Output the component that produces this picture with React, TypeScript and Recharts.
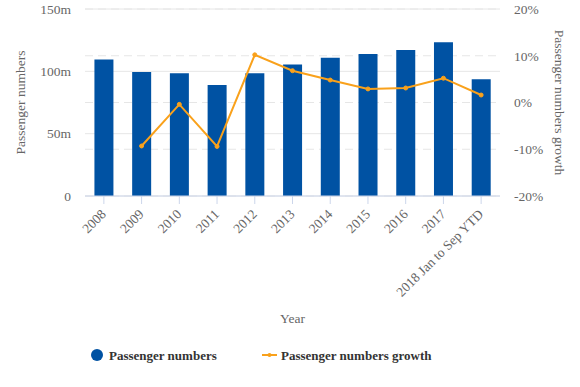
import React from 'react';
import { ComposedChart, Bar, Line, XAxis, YAxis, CartesianGrid, Legend, Label } from 'recharts';

const categories = ['2008', '2009', '2010', '2011', '2012', '2013', '2014', '2015', '2016', '2017', '2018 Jan to Sep YTD'];
const passengerNumbers = [109.5, 99.5, 98.5, 89, 98.5, 105.5, 110.8, 114, 117.2, 123.3, 93.7];
const passengerGrowth: (number | null)[] = [null, -9.3, -0.4, -9.4, 10.2, 6.8, 4.8, 2.9, 3.1, 5.2, 1.6];
const leftTicks = [0, 50, 100, 150];
const rightTicks = [-20, -10, 0, 10, 20];

const data = categories.map((c, i) => ({
  year: c,
  passengers: passengerNumbers[i],
  growth: passengerGrowth[i],
}));

const BLUE = '#0052a3';
const ORANGE = '#f9a11b';
const FONT = '"Liberation Serif", "Times New Roman", serif';

const XTick = (props: any) => {
  const { x, y, payload } = props;
  return (
    <text
      x={x + 3}
      y={y + 9}
      transform={`rotate(-45 ${x + 3} ${y + 9})`}
      textAnchor="end"
      fontSize={13.5}
      fontFamily={FONT}
      fill="#666"
    >
      {payload.value}
    </text>
  );
};

const LegendContent = () => (
  <div style={{ position: 'relative', width: 580, height: 42, fontFamily: FONT }}>
    <svg width={580} height={42} style={{ position: 'absolute', left: 0, top: 0 }}>
      <circle cx={97} cy={10} r={6} fill={BLUE} />
      <text x={109} y={14.5} fontSize={13} fontWeight="bold" fill="#333" fontFamily={FONT}>
        Passenger numbers
      </text>
      <line x1={262} y1={10} x2={277} y2={10} stroke={ORANGE} strokeWidth={2} />
      <circle cx={269.5} cy={10} r={2} fill={ORANGE} />
      <text x={281} y={14.5} fontSize={13} fontWeight="bold" fill="#333" fontFamily={FONT}>
        Passenger numbers growth
      </text>
    </svg>
  </div>
);

export default function App() {
  return (
    <div style={{ position: 'absolute', left: 0, top: 0 }}>
      <ComposedChart
        width={580}
        height={387}
        data={data}
        margin={{ top: 9, right: 0, bottom: 0, left: 0 }}
        barCategoryGap="25%"
      >
        <CartesianGrid yAxisId="left" vertical={false} stroke="#e6e6e6" />
        <CartesianGrid yAxisId="right" vertical={false} stroke="#e6e6e6" strokeDasharray="8 5" />
        <XAxis
          dataKey="year"
          interval={0}
          height={149}
          tick={<XTick />}
          tickSize={8}
          stroke="#ccd6eb"
          tickLine={{ stroke: '#ccd6eb' }}
          axisLine={{ stroke: '#ccd6eb' }}
        >
          <Label
            value="Year"
            position="insideBottom"
            offset={22}
            style={{ fontSize: 13.5, fontFamily: FONT, fill: '#666' }}
          />
        </XAxis>
        <YAxis
          yAxisId="left"
          width={85}
          domain={[0, 150]}
          ticks={leftTicks}
          tickFormatter={(v: number) => (v === 0 ? '0' : `${v}m`)}
          axisLine={false}
          tickLine={false}
          tickSize={12}
          tickMargin={2}
          tick={{ fontSize: 13.5, fontFamily: FONT, fill: '#666' }}
        >
          <Label
            value="Passenger numbers"
            angle={-90}
            position="insideLeft"
            offset={20}
            style={{ fontSize: 13.5, fontFamily: FONT, fill: '#666', textAnchor: 'middle' }}
          />
        </YAxis>
        <YAxis
          yAxisId="right"
          orientation="right"
          width={80}
          domain={[-20, 20]}
          ticks={rightTicks}
          tickFormatter={(v: number) => `${v}%`}
          axisLine={false}
          tickLine={false}
          tickSize={12}
          tickMargin={2}
          tick={{ fontSize: 13.5, fontFamily: FONT, fill: '#666' }}
        >
          <Label
            value="Passenger numbers growth"
            angle={90}
            position="insideRight"
            offset={20}
            style={{ fontSize: 13.5, fontFamily: FONT, fill: '#666', textAnchor: 'middle' }}
          />
        </YAxis>
        <Legend verticalAlign="bottom" content={<LegendContent />} />
        <Bar yAxisId="left" dataKey="passengers" name="Passenger numbers" fill={BLUE} isAnimationActive={false} />
        <Line
          yAxisId="right"
          dataKey="growth"
          name="Passenger numbers growth"
          stroke={ORANGE}
          strokeWidth={2}
          dot={{ r: 2, fill: ORANGE, stroke: ORANGE, strokeWidth: 1 }}
          isAnimationActive={false}
        />
      </ComposedChart>
    </div>
  );
}
